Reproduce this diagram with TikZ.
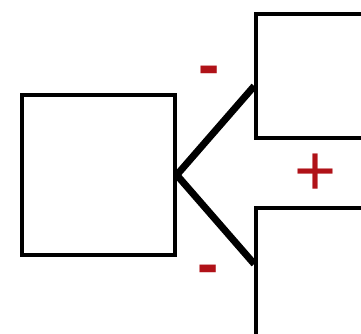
\documentclass[tikz,border=0pt]{standalone}
\usepackage{fontspec}
\newfontfamily\signfont{Liberation Sans}
\definecolor{signred}{RGB}{176,18,24}

\begin{document}
\begin{tikzpicture}[x=1pt,y=-1pt,
		box/.style={draw, line width=3.5pt, inner sep=0pt},
		link/.style={line width=7pt},
		sign/.style={text=signred, inner sep=0pt, font=\signfont\bfseries}]
		\useasboundingbox (0,0) rectangle (361,333);
		\clip (0,0) rectangle (361,333);

		\node[box, minimum width=153pt, minimum height=160pt] (src) at (98.5,175) {};
		\node[box, minimum width=150pt, minimum height=124pt] (top) at (331,76) {};
		\node[box, minimum width=150pt, minimum height=138pt] (bot) at (331,277) {};

		\draw[link] (src.east) -- ([yshift=-10pt]top.west);
		\draw[link] (src.east) -- ([yshift=13pt]bot.west);

		\node[sign, font=\signfont\bfseries\fontsize{64}{64}\selectfont] (mtop) at (209,76) {-};
		\node[sign, font=\signfont\bfseries\fontsize{64}{64}\selectfont] (mbot) at (208,275) {-};
		\node[sign, font=\signfont\fontsize{72}{72}\selectfont] (plus) at (316,175) {+};
	\end{tikzpicture}
\end{document}
